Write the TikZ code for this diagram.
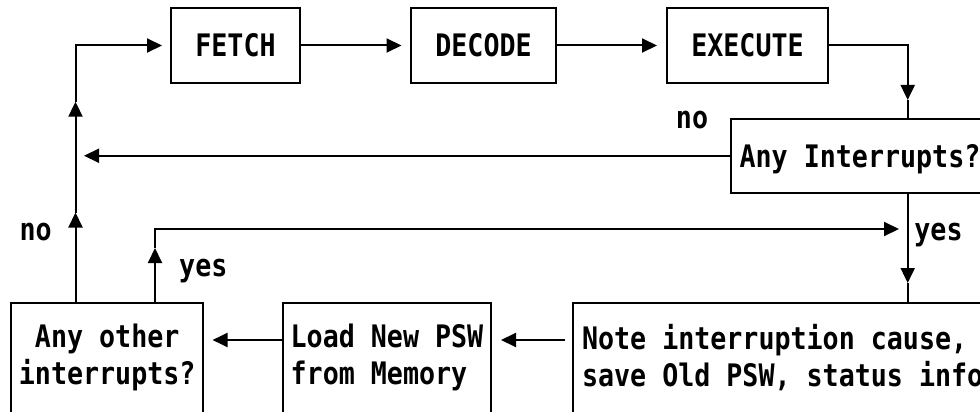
\documentclass[tikz,border=0pt]{standalone}
\usepackage{fontspec}
\usetikzlibrary{arrows.meta}
\newfontfamily\diafont[FakeStretch=0.86]{DejaVu Sans Mono}

\tikzset{
  txt/.style={font={\diafont\bfseries\fontsize{31pt}{36.7pt}\selectfont}},
  stepbox/.style={txt, draw, line width=2pt, inner sep=0pt,
    text height=22.6pt, text depth=0pt},
  tallbox/.style={txt, draw, line width=2pt, inner sep=0pt, align=left},
  lbl/.style={txt, inner sep=0pt},
  wire/.style={line width=2pt},
  flow/.style={line width=2pt, -{Triangle[length=15pt,width=14pt]}},
}

\begin{document}
\begin{tikzpicture}[x=1pt,y=-1pt]
\useasboundingbox (0,0) rectangle (980,412);
\clip (0,0) rectangle (980,412);

% instruction cycle
\node[stepbox, minimum width=129pt, minimum height=74.4pt] (fetch) at (235.5,45.5) {FETCH};
\node[stepbox, minimum width=145pt, minimum height=74.4pt] (decode) at (483.5,45.5) {DECODE};
\node[stepbox, minimum width=161pt, minimum height=74.4pt] (exec) at (747.5,45.5) {EXECUTE};

% interrupt check
\node[stepbox, minimum width=258pt, minimum height=74.5pt] (intr) at (860,155.75) {Any Interrupts?};

% interrupt handling
\node[tallbox, minimum width=191.7pt, minimum height=110.1pt, align=center] (other) at (107.2,357.6) {Any other\\interrupts?};
\node[tallbox, minimum width=208pt, minimum height=110.1pt] (load) at (387,357.6) {Load New PSW\\from Memory};
\node[tallbox, anchor=west, inner xsep=9.3pt, minimum height=110.1pt] (note) at (571.7,357.6) {Note interruption cause,\\save Old PSW, status info};

% connector waypoints
\coordinate (upA) at (75.5,212.5);
\coordinate (upB) at (75.5,101.7);
\coordinate (upC) at (155,248);
\coordinate (rTip) at (899,229);
\coordinate (downA) at (907.7,100);
\coordinate (downB) at (907.7,283);
\coordinate (noTip) at (84,155.75);
\coordinate (r9) at (0,340);

% connectors
\draw[flow] (other.north -| upA) -- (upA);
\draw[flow] (upA) -- (upB);
\draw[flow, shorten >=8pt] (upB) |- (fetch.west);
\draw[flow, shorten >=8.5pt] (fetch.east) -- (decode.west);
\draw[flow, shorten >=9pt] (decode.east) -- (exec.west);
\draw[flow] (exec.east) -| (downA);
\draw[wire] (downA) -- (downA |- intr.north);
\draw[flow] (intr.west) -- (noTip);
\draw[flow] (intr.south -| downB) -- (downB);
\draw[wire] (downB) -- (downB |- note.north);
\draw[flow] (other.north -| upC) -- (upC);
\draw[flow] (upC) |- (rTip);
\draw[flow, shorten <=6.7pt, shorten >=9pt] (note.west |- r9) -- (load.east |- r9);
\draw[flow, shorten >=8.5pt] (load.west |- r9) -- (other.east |- r9);

% branch labels
\node[lbl, anchor=base] (noTop) at (692,128.3) {no};
\node[lbl, anchor=base] (noLeft) at (35.7,240) {no};
\node[lbl, anchor=base] (yesLeft) at (203.3,276.7) {yes};
\node[lbl, anchor=base] (yesRight) at (938.5,240) {yes};
\end{tikzpicture}
\end{document}
